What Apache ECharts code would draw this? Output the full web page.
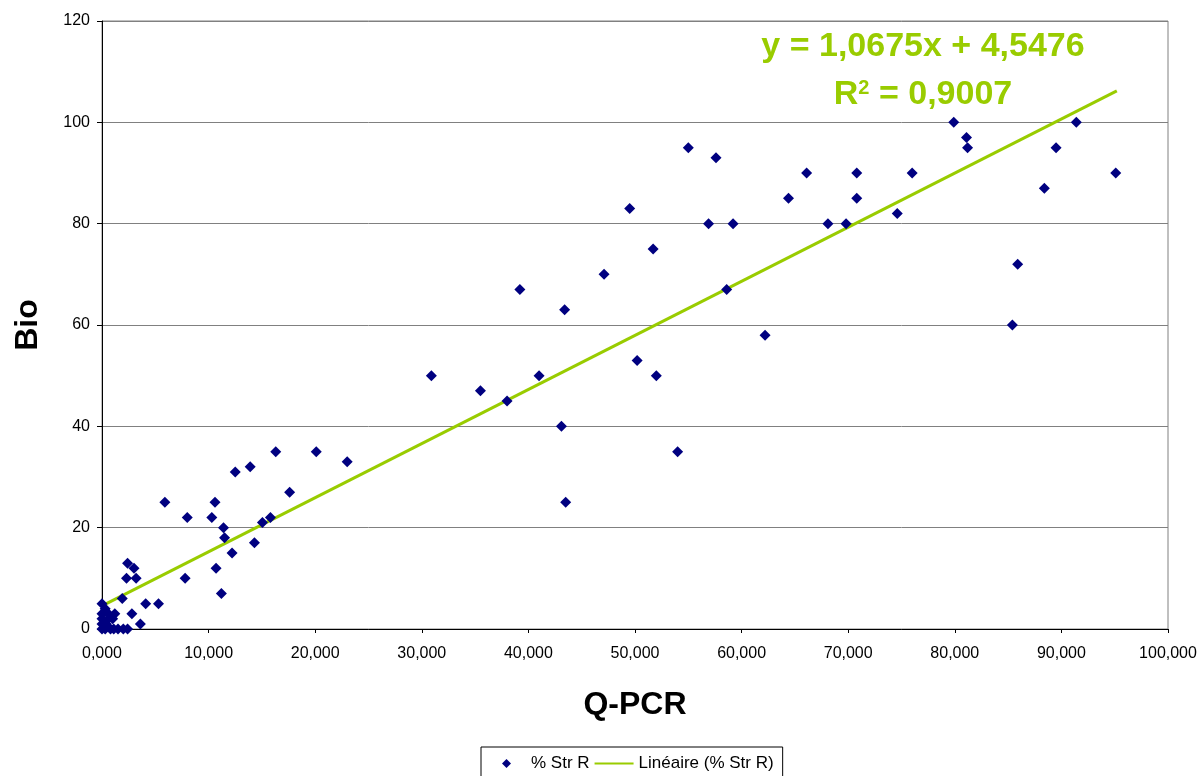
<!DOCTYPE html>
<html>
<head>
<meta charset="utf-8">
<script src="https://cdn.jsdelivr.net/npm/echarts@6/dist/echarts.min.js"></script>
<style>
html,body{margin:0;padding:0;background:#fff;}
#chart{width:1203px;height:776px;}
</style>
</head>
<body>
<div id="chart"></div>
<script>
// Q-PCR (x) values
var qpcr = [0,0,0,0,0,0.3,0.4,0.6,0.8,1.0,1.2,1.1,1.5,0.3,0.6,2.0,2.4,
  1.9,2.8,3.6,4.1,5.3,
  2.4,3.0,2.3,3.2,7.8,10.7,11.2,
  5.9,10.6,8.0,10.3,15.8,15.05,11.4,11.5,14.3,12.2,17.6,
  12.5,13.9,16.3,20.1,23.0,
  30.9,35.5,38.0,41.0,43.1,43.5,54.0,50.2,52.0,
  39.2,43.4,47.1,49.5,51.7,55.0,57.6,56.9,59.2,58.6,62.2,
  64.4,66.1,68.1,69.8,70.8,70.8,74.6,76.0,
  79.9,81.1,81.2,85.4,85.9,88.4,89.5,91.4,95.1];
// Bio (y) values
var bio = [5,3,2,1,0,0,1,3,0,2,3,0,0,4,2,0,0,
  6,3,1,5,5,
  13,12,10,10,10,12,7,
  25,25,22,22,22,21,20,18,17,15,27,
  31,32,35,35,33,
  50,47,45,50,40,25,35,53,50,
  67,63,70,83,75,95,93,80,80,67,58,
  85,90,80,80,90,85,82,90,
  100,97,95,60,72,87,95,100,90];
// Trend line endpoints
var trendX = [0, 95.2];
var trendY = [4.55, 106.2];
// Axis ticks
var xTicks = {min:0, max:100, interval:10};
var yTicks = {min:0, max:120, interval:20};
// Texts
var seriesName = '% Str R';
var trendName = 'Linéaire (% Str R)';
var eqText = 'y = 1,0675x + 4,5476';
var r2Text = ' = 0,9007';

var FONT = 'Liberation Sans, Arial, sans-serif';
var GREEN = '#99CC00';
var NAVY = '#000080';

var scatterData = qpcr.map(function(x,i){return [x, bio[i]];});
var trendData = trendX.map(function(x,i){return [x, trendY[i]];});

var chart = echarts.init(document.getElementById('chart'), null, {renderer:'canvas'});
chart.setOption({
  animation:false,
  backgroundColor:'#ffffff',
  textStyle:{fontFamily:FONT},
  grid:{left:102, right:35, top:21, bottom:147, show:true, borderColor:'#808080', borderWidth:1, backgroundColor:'transparent'},
  xAxis:{
    type:'value', min:xTicks.min, max:xTicks.max, interval:xTicks.interval,
    name:'Q-PCR', nameLocation:'middle', nameGap:60,
    nameTextStyle:{fontSize:32, fontWeight:'bold', color:'#000', fontFamily:FONT},
    axisLine:{show:true, onZero:false, lineStyle:{color:'#000', width:1}},
    axisTick:{show:true, length:4, lineStyle:{color:'#000'}},
    axisLabel:{fontSize:16, color:'#000', margin:17, fontFamily:FONT,
      formatter:function(v){return v.toFixed(3).replace('.', ',');}},
    splitLine:{show:false}
  },
  yAxis:{
    type:'value', min:yTicks.min, max:yTicks.max, interval:yTicks.interval,
    name:'Bio', nameLocation:'middle', nameGap:58, nameRotate:90,
    nameTextStyle:{fontSize:32, fontWeight:'bold', color:'#000', fontFamily:FONT},
    axisLine:{show:true, lineStyle:{color:'#000', width:1}},
    axisTick:{show:true, length:5, lineStyle:{color:'#000'}},
    axisLabel:{fontSize:16, color:'#000', margin:12, fontFamily:FONT},
    splitLine:{show:true, lineStyle:{color:'#808080', width:1}}
  },
  legend:{
    left:481, top:747,
    itemWidth:39, itemHeight:9, itemGap:4,
    padding:[8,9,8,6],
    symbolKeepAspect:false,
    borderColor:'#000', borderWidth:1,
    textStyle:{fontSize:17, color:'#000', fontFamily:FONT},
    data:[
      {name:seriesName, icon:'path://M0,0M39,9M19.5,0L24,4.5L19.5,9L15,4.5Z', itemStyle:{color:NAVY, opacity:1}},
      {name:trendName, itemStyle:{color:'rgba(0,0,0,0)', borderWidth:0, opacity:0}, lineStyle:{width:2, color:GREEN, opacity:1}}
    ]
  },
  graphic:[
    {type:'text', x:923, y:47, style:{text:eqText, fill:GREEN, font:'bold 34px '+FONT, textAlign:'center', textVerticalAlign:'middle'}},
    {type:'text', x:923, y:95, style:{
      text:'{r|R}{s|2}{r|'+r2Text+'}', textAlign:'center', textVerticalAlign:'middle',
      rich:{
        r:{fill:GREEN, font:'bold 34px '+FONT, verticalAlign:'bottom'},
        s:{fill:GREEN, font:'bold 20px '+FONT, verticalAlign:'top', padding:[0,0,14,0]}
      }
    }}
  ],
  series:[
    {name:seriesName, type:'scatter', symbol:'diamond', symbolSize:11,
     itemStyle:{color:NAVY, opacity:1}, data:scatterData, z:3},
    {name:trendName, type:'line', symbol:'none', showSymbol:false,
     lineStyle:{color:GREEN, width:3}, itemStyle:{color:GREEN}, data:trendData, z:2}
  ]
});
</script>
</body>
</html>
